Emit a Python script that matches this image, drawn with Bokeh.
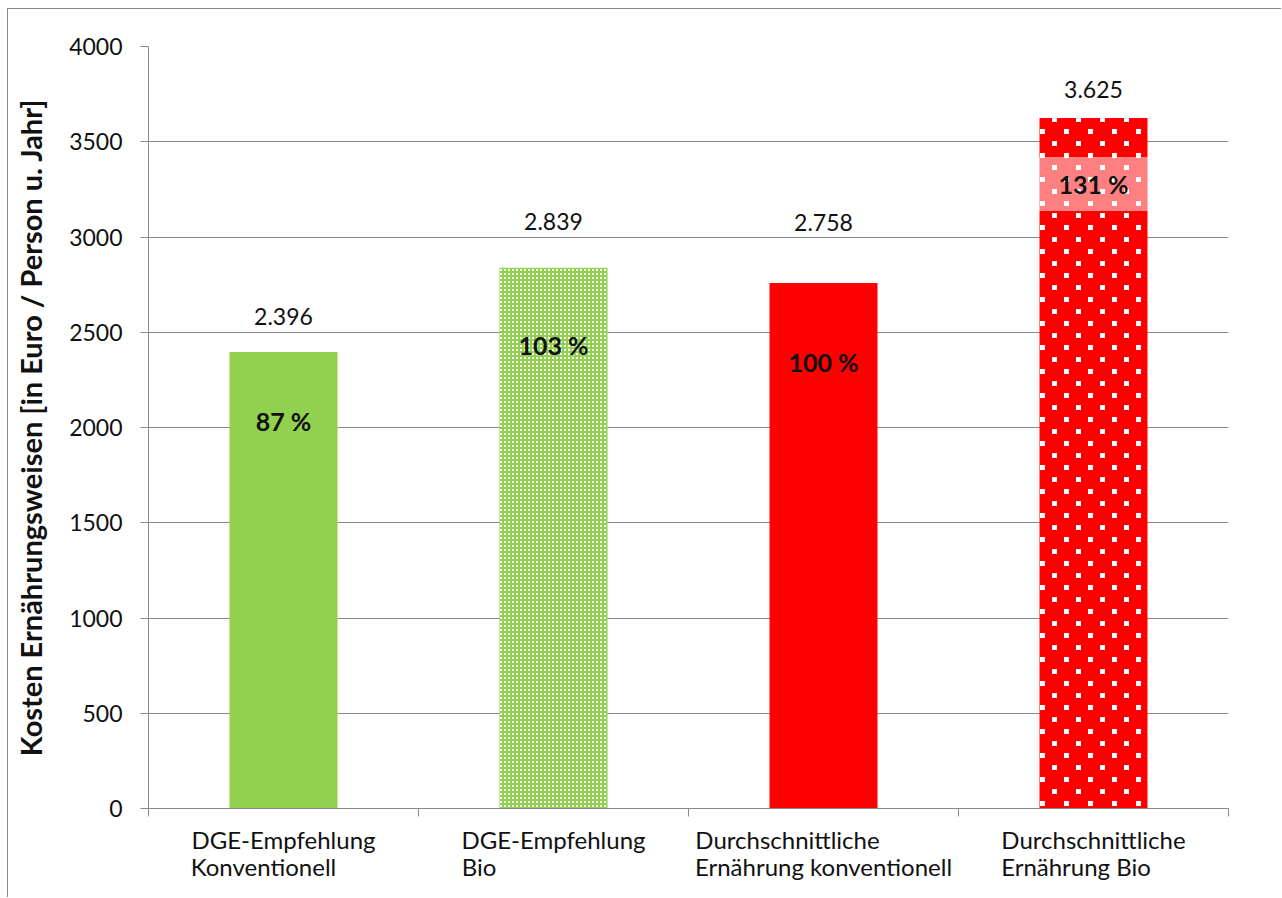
import zlib, struct, base64
from bokeh.plotting import figure
from bokeh.models import (ColumnDataSource, Range1d, FixedTicker, LabelSet, Label,
                          ImageURLTexture, LinearAxis)
from bokeh.core.properties import value
from bokeh.embed import file_html
from bokeh.resources import INLINE

# ---------------- data ----------------
cat_line1 = ["DGE-Empfehlung", "DGE-Empfehlung", "Durchschnittliche", "Durchschnittliche"]
cat_line2 = ["Konventionell", "Bio", "Ernährung konventionell", "Ernährung Bio"]
values = [2396, 2839, 2758, 3625]
value_labels = ["2.396", "2.839", "2.758", "3.625"]
pct_labels = ["87 %", "103 %", "100 %", "131 %"]
y_ticks = [0, 500, 1000, 1500, 2000, 2500, 3000, 3500, 4000]
y_title = "Kosten Ernährungsweisen [in Euro / Person u. Jahr]"

# ---------------- styles / layout ----------------
fill_colors = ["#92D050", "#92D050", "#FF0000", "#FF0000"]
patterns = [None, "fine", None, "confetti"]
value_offsets = [27, 38, 52, 20]
pct_offsets = [-69, -77, -79, -66]
line1_w = [183, 183, 183, 183]     # approx. rendered widths (px) of the label lines
line2_w = [143, 34, 255, 148]
PX_PER_CAT = 270
GRID = "#898989"
TXT = "#111111"
FONT = "Lato"


def png_data_url(w, h, on):
    raw = b""
    for yy in range(h):
        raw += b"\x00" + b"".join(b"\xff\xff\xff\xff" if on(xx, yy) else b"\x00\x00\x00\x00"
                                  for xx in range(w))

    def chunk(t, d):
        return struct.pack(">I", len(d)) + t + d + struct.pack(">I", zlib.crc32(t + d) & 0xffffffff)

    png = (b"\x89PNG\r\n\x1a\n" + chunk(b"IHDR", struct.pack(">IIBBBBB", w, h, 8, 6, 0, 0, 0))
           + chunk(b"IDAT", zlib.compress(raw)) + chunk(b"IEND", b""))
    return "data:image/png;base64," + base64.b64encode(png).decode()


textures = {
    "fine": ImageURLTexture(url=png_data_url(4, 4, lambda x, y: x < 2 and y < 2)),
    "confetti": ImageURLTexture(url=png_data_url(
        24, 24, lambda x, y: (x < 5 and y < 5) or (12 <= x < 17 and 12 <= y < 17))),
}

p = figure(width=1274, height=889, output_backend="svg", toolbar_location=None,
           x_range=Range1d(0, len(values)), y_range=Range1d(0, 4000),
           min_border_left=140, min_border_right=54, min_border_top=37, min_border_bottom=90)
p.styles = {"margin-left": "7px", "margin-top": "8px",
            "border-top": f"1px solid {GRID}", "border-left": f"1px solid {GRID}"}
p.outline_line_color = None
p.background_fill_color = "white"
p.border_fill_color = "white"

xs = [i + 0.5 for i in range(len(values))]

for i in range(len(values)):
    pat = patterns[i]
    if pat is None:
        src = ColumnDataSource(dict(x=[xs[i]], top=[values[i]]))
        p.vbar(x="x", top="top", width=0.4, source=src, fill_color=fill_colors[i], line_color=None)
    else:
        src = ColumnDataSource(dict(x=[xs[i]], top=[values[i]], pat=[pat]))
        p.vbar(x="x", top="top", width=0.4, source=src, fill_color=fill_colors[i], line_color=None,
               hatch_pattern="pat", hatch_extra={pat: textures[pat]}, hatch_color="white")

# value labels above bars
vsrc = ColumnDataSource(dict(x=xs, y=values, t=value_labels, off=value_offsets))
p.add_layout(LabelSet(x="x", y="y", text="t", y_offset="off", source=vsrc,
                      text_align="center", text_baseline="alphabetic",
                      text_font=value(FONT), text_font_size="23px", text_color=TXT))

# percentage labels inside bars
for i in range(len(values)):
    kw = {}
    if i == 3:
        kw = dict(background_fill_color="white", background_fill_alpha=0.5,
                  padding=dict(left=22, right=22, top=12, bottom=12))
    p.add_layout(Label(x=xs[i], y=values[i], text=pct_labels[i], y_offset=pct_offsets[i],
                       text_align="center", text_baseline="middle",
                       text_font=FONT, text_font_size="25px", text_font_style="bold",
                       text_color=TXT, **kw))

# y axis
p.yaxis.ticker = FixedTicker(ticks=y_ticks)
p.yaxis.axis_label = y_title
p.yaxis.axis_label_text_font = FONT
p.yaxis.axis_label_text_font_size = "29px"
p.yaxis.axis_label_text_font_style = "bold"
p.yaxis.axis_label_text_color = TXT
p.yaxis.axis_label_standoff = 18
p.yaxis.major_label_text_font = FONT
p.yaxis.major_label_text_font_size = "23px"
p.yaxis.major_label_text_color = TXT
p.yaxis.major_label_standoff = 18
p.yaxis.major_tick_out = 8
p.yaxis.major_tick_in = 0
p.yaxis.minor_tick_line_color = None
p.yaxis.axis_line_color = GRID
p.yaxis.major_tick_line_color = GRID

# x axis: two label lines, left aligned within a block centred under each bar
block_left = [xs[i] - max(line1_w[i], line2_w[i]) / (2 * PX_PER_CAT) for i in range(len(values))]
pos1 = [block_left[i] + line1_w[i] / (2 * PX_PER_CAT) for i in range(len(values))]
pos2 = [block_left[i] + line2_w[i] / (2 * PX_PER_CAT) for i in range(len(values))]


def style_cat_axis(ax):
    ax.major_label_text_font = FONT
    ax.major_label_text_font_size = "24px"
    ax.major_label_text_color = TXT
    ax.major_tick_out = 0
    ax.major_tick_in = 0
    ax.major_tick_line_color = None


xa = p.xaxis[0]
xa.ticker = FixedTicker(ticks=pos1, minor_ticks=list(range(len(values) + 1)))
xa.major_label_overrides = {pos1[i]: cat_line1[i] for i in range(len(values))}
style_cat_axis(xa)
xa.major_label_standoff = 8
xa.minor_tick_out = 8
xa.minor_tick_in = 0
xa.minor_tick_line_color = GRID
xa.axis_line_color = GRID

xb = LinearAxis(ticker=FixedTicker(ticks=pos2),
                major_label_overrides={pos2[i]: cat_line2[i] for i in range(len(values))})
style_cat_axis(xb)
xb.major_label_standoff = -5
xb.minor_tick_line_color = None
xb.axis_line_color = None
p.add_layout(xb, "below")

p.xgrid.grid_line_color = None
p.ygrid.grid_line_color = GRID
p.ygrid.ticker = FixedTicker(ticks=y_ticks)

open("out.html", "w").write(file_html(p, INLINE))
